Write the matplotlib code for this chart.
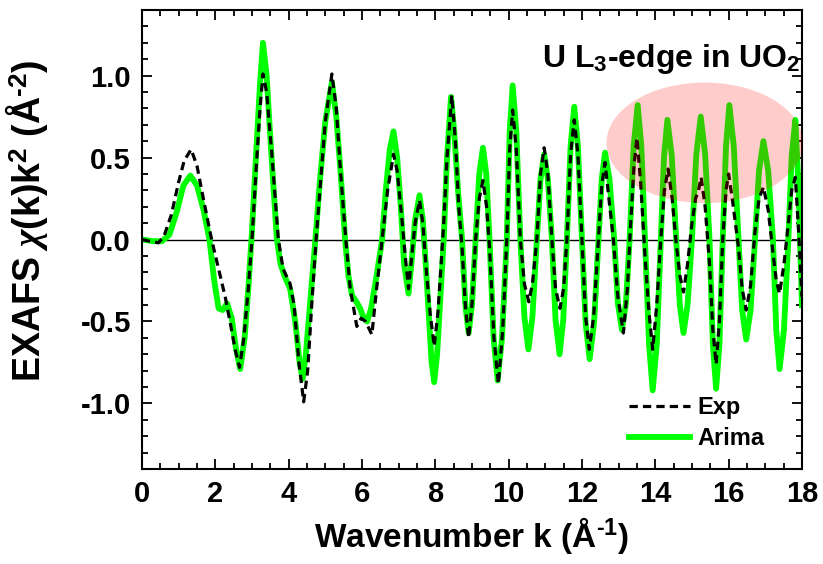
import matplotlib
matplotlib.use("Agg")
import matplotlib.pyplot as plt
from matplotlib.patches import Ellipse

# Arima model (green)
k_arima = [0.00, 0.30, 0.55, 0.75, 0.95, 1.13, 1.32, 1.50, 1.68, 1.84, 1.97, 2.09, 2.20, 2.32,
           2.45, 2.56, 2.68, 2.80, 2.90, 3.00, 3.12, 3.22, 3.30, 3.40, 3.52, 3.68, 3.78, 3.90,
           4.04, 4.18, 4.30, 4.38, 4.47, 4.60, 4.73, 4.85, 5.00, 5.18, 5.30, 5.42, 5.54, 5.63,
           5.73, 5.85, 5.95, 6.05, 6.14, 6.25, 6.40, 6.55, 6.65, 6.76, 6.86, 6.96, 7.06, 7.15,
           7.27, 7.36, 7.45, 7.57, 7.66, 7.74, 7.82, 7.90, 7.97, 8.05, 8.14, 8.23, 8.32, 8.43,
           8.52, 8.62, 8.73, 8.82, 8.91, 9.00, 9.10, 9.20, 9.30, 9.39, 9.48, 9.59, 9.70, 9.82,
           9.95, 10.03, 10.11, 10.21, 10.32, 10.43, 10.54, 10.65, 10.77, 10.87, 10.97, 11.07,
           11.18, 11.28, 11.39, 11.49, 11.59, 11.69, 11.79, 11.89, 12.00, 12.10, 12.21, 12.33,
           12.45, 12.54, 12.63, 12.75, 12.88, 12.98, 13.09, 13.20, 13.30, 13.41, 13.52, 13.62,
           13.72, 13.83, 13.93, 14.04, 14.15, 14.24, 14.33, 14.45, 14.57, 14.67, 14.77, 14.88,
           15.00, 15.12, 15.24, 15.36, 15.48, 15.57, 15.66, 15.75, 15.84, 15.93, 16.02, 16.14,
           16.27, 16.37, 16.48, 16.60, 16.72, 16.83, 16.95, 17.08, 17.21, 17.30, 17.39, 17.51,
           17.63, 17.72, 17.82, 17.91, 18.00]
chi_arima = [0.00, -0.01, -0.01, 0.03, 0.17, 0.33, 0.39, 0.33, 0.18, 0.00, -0.25, -0.42, -0.43, -0.39,
             -0.48, -0.66, -0.79, -0.60, -0.30, 0.05, 0.55, 0.95, 1.20, 1.00, 0.55, 0.00, -0.15, -0.23,
             -0.30, -0.50, -0.75, -0.85, -0.70, -0.35, 0.00, 0.35, 0.72, 0.96, 0.75, 0.40, 0.00, -0.22,
             -0.34, -0.38, -0.42, -0.48, -0.50, -0.42, -0.22, 0.00, 0.30, 0.55, 0.66, 0.50, 0.20, -0.15,
             -0.33, -0.12, 0.12, 0.27, 0.12, -0.15, -0.45, -0.75, -0.87, -0.70, -0.35, 0.00, 0.50, 0.87,
             0.65, 0.30, 0.00, -0.40, -0.57, -0.40, 0.00, 0.40, 0.56, 0.40, 0.00, -0.60, -0.86, -0.60,
             0.00, 0.66, 0.94, 0.66, 0.00, -0.47, -0.67, -0.47, 0.00, 0.37, 0.52, 0.37,
             0.00, -0.49, -0.70, -0.49, 0.00, 0.57, 0.81, 0.57, 0.00, -0.51, -0.73, -0.51,
             0.00, 0.37, 0.53, 0.37, 0.00, -0.39, -0.55, -0.39, 0.00, 0.57, 0.82, 0.57,
             0.00, -0.64, -0.92, -0.64, 0.00, 0.51, 0.73, 0.51, 0.00, -0.40, -0.57, -0.40,
             0.00, 0.52, 0.75, 0.52, 0.00, -0.64, -0.91, -0.64, 0.00, 0.57, 0.82, 0.57,
             0.00, -0.43, -0.61, -0.43, 0.00, 0.42, 0.60, 0.42, 0.00, -0.55, -0.79, -0.55,
             0.00, 0.51, 0.73, 0.30, -0.40]

# experiment (black dashed)
k_exp = [0.00, 0.20, 0.45, 0.60, 0.80, 1.00, 1.15, 1.34, 1.50, 1.70, 1.90, 2.08, 2.27, 2.40,
         2.55, 2.66, 2.78, 2.90, 3.00, 3.12, 3.22, 3.30, 3.40, 3.55, 3.72, 3.85, 4.04, 4.15,
         4.28, 4.41, 4.52, 4.63, 4.75, 4.87, 5.00, 5.18, 5.30, 5.42, 5.56, 5.68, 5.86, 5.98,
         6.10, 6.27, 6.40, 6.55, 6.70, 6.86, 6.96, 7.08, 7.18, 7.27, 7.36, 7.45, 7.57, 7.66,
         7.76, 7.86, 7.97, 8.07, 8.16, 8.23, 8.32, 8.45, 8.55, 8.64, 8.73, 8.82, 8.91, 9.00,
         9.10, 9.20, 9.30, 9.40, 9.48, 9.60, 9.72, 9.84, 9.95, 10.03, 10.11, 10.21, 10.32,
         10.43, 10.55, 10.65, 10.77, 10.87, 10.97, 11.07, 11.18, 11.28, 11.40, 11.50, 11.59,
         11.69, 11.79, 11.89, 12.00, 12.10, 12.20, 12.32, 12.45, 12.54, 12.63, 12.75, 12.85,
         12.98, 13.13, 13.24, 13.33, 13.42, 13.50, 13.60, 13.72, 13.83, 13.93, 14.04, 14.15,
         14.25, 14.35, 14.46, 14.57, 14.67, 14.77, 14.88, 15.00, 15.10, 15.18, 15.25, 15.36,
         15.48, 15.57, 15.66, 15.75, 15.84, 15.93, 16.00, 16.10, 16.27, 16.37, 16.48, 16.60,
         16.72, 16.83, 16.95, 17.08, 17.21, 17.30, 17.39, 17.51, 17.63, 17.72, 17.82, 17.91,
         18.00]
chi_exp = [0.00, -0.01, -0.02, 0.02, 0.15, 0.35, 0.48, 0.55, 0.45, 0.22, 0.00, -0.17, -0.35, -0.50,
           -0.68, -0.78, -0.60, -0.30, 0.00, 0.45, 0.80, 1.01, 0.90, 0.50, 0.00, -0.18, -0.27, -0.40,
           -0.75, -0.99, -0.80, -0.40, 0.00, 0.35, 0.72, 1.01, 0.80, 0.40, 0.00, -0.30, -0.53, -0.48,
           -0.50, -0.58, -0.30, 0.00, 0.30, 0.52, 0.42, 0.15, -0.10, -0.30, -0.10, 0.10, 0.24, 0.10,
           -0.20, -0.45, -0.65, -0.45, -0.15, 0.10, 0.50, 0.88, 0.60, 0.20, -0.05, -0.40, -0.60, -0.40,
           0.00, 0.25, 0.36, 0.20, -0.05, -0.60, -0.88, -0.55, 0.00, 0.55, 0.79, 0.55, 0.00,
           -0.27, -0.38, -0.27, 0.00, 0.40, 0.56, 0.40, 0.00, -0.30, -0.42, -0.30, 0.00,
           0.52, 0.73, 0.52, 0.00, -0.47, -0.67, -0.47, 0.00, 0.33, 0.47, 0.22, 0.02,
           -0.35, -0.57, -0.30, 0.10, 0.45, 0.62, 0.35, -0.10, -0.45, -0.67, -0.40, 0.00,
           0.30, 0.43, 0.25, -0.02, -0.22, -0.32, -0.15, 0.10, 0.25, 0.30, 0.38, 0.20,
           -0.15, -0.55, -0.76, -0.50, 0.00, 0.30, 0.40, 0.25, -0.05, -0.30, -0.43, -0.28,
           0.05, 0.25, 0.32, 0.18, -0.08, -0.25, -0.33, -0.15, 0.10, 0.30, 0.38, 0.05,
           -0.35]

plt.rcParams['font.family'] = ['Liberation Sans', 'DejaVu Sans']
plt.rcParams['font.weight'] = 'bold'
plt.rcParams['axes.unicode_minus'] = False
plt.rcParams['mathtext.fontset'] = 'custom'
plt.rcParams['mathtext.rm'] = 'Liberation Sans:bold'
plt.rcParams['mathtext.bf'] = 'Liberation Sans:bold'
plt.rcParams['mathtext.it'] = 'Liberation Serif:italic'

fig = plt.figure(figsize=(8.23, 5.64), dpi=100)
ax = fig.add_axes([0.1725, 0.1684, 0.8019, 0.8138])

ax.axhline(0, color='black', lw=1.0, zorder=1)
green, = ax.plot(k_arima, chi_arima, color='#00ff00', lw=4.2, label='Arima', zorder=2)
black, = ax.plot(k_exp, chi_exp, color='black', lw=2.3, ls=(0, (2.6, 1.6)), label='Exp', zorder=3)

ax.add_patch(Ellipse((15.35, 0.59), 5.36, 0.735, facecolor='red', alpha=0.2,
                     edgecolor='none', zorder=4))

ax.text(17.95, 1.05, r'U L$_\mathbf{3}$-edge in UO$_\mathbf{2}$', ha='right', va='baseline',
        fontsize=23, fontweight='bold')

ax.set_xlim(0, 18)
ax.set_ylim(-1.4, 1.4)
ax.set_xticks(range(0, 19, 2))
ax.set_xticks([x * 0.5 for x in range(37)], minor=True)
ax.set_yticks([-1.0, -0.5, 0.0, 0.5, 1.0])
ax.set_yticks([y * 0.1 - 1.4 for y in range(29)], minor=True)
ax.set_yticklabels(['-1.0', '-0.5', '0.0', '0.5', '1.0'])
ax.tick_params(which='both', direction='in', top=True, right=True, width=1.3, labelsize=21)
ax.tick_params(which='major', length=7, pad=8)
ax.tick_params(which='minor', length=4)
for s in ax.spines.values():
    s.set_linewidth(1.5)

ax.set_xlabel(r'Wavenumber k (Å$^{\text{-1}}$)', fontsize=24, fontweight='bold')
ax.set_ylabel(r'EXAFS $\chi$(k)k$^\mathbf{2}$ (Å$^{\text{-2}}$)', fontsize=27, fontweight='bold')
ax.xaxis.set_label_coords(0.5, -0.1)
ax.yaxis.set_label_coords(-0.14, 0.54)

ax.legend(handles=[black, green], loc='lower right', bbox_to_anchor=(0.975, -0.005),
          frameon=False, fontsize=17, handlelength=2.6, handletextpad=0.3, labelspacing=0.35)

fig.savefig('out.png', dpi=100)
